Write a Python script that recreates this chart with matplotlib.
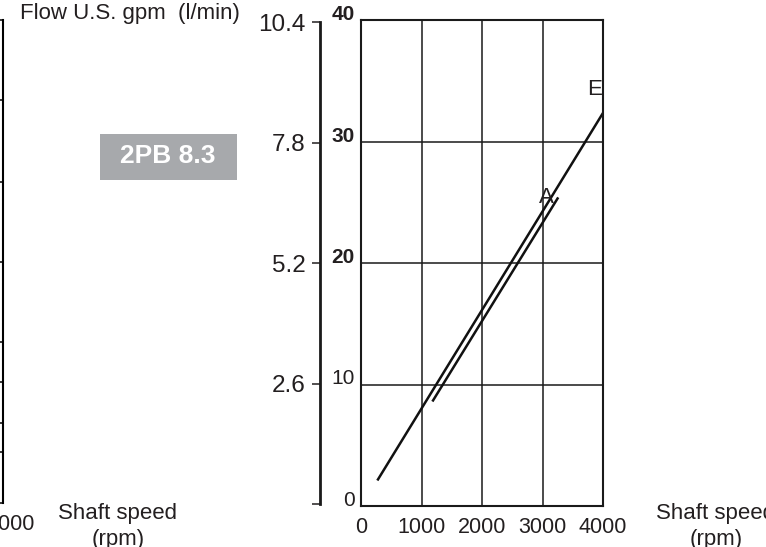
import matplotlib

matplotlib.use("Agg")
import matplotlib.pyplot as plt
from matplotlib.patches import Rectangle

plt.rcParams["font.family"] = ["Liberation Sans", "DejaVu Sans"]

# Données
speed_ticks = [0, 1000, 2000, 3000, 4000]
flow_lmin_ticks = [0, 10, 20, 30, 40]
flow_gpm_ticks = [0, 2.6, 5.2, 7.8, 10.4]
flow_gpm_labels = ["", "2.6", "5.2", "7.8", "10.4"]

curve_e_speed = [270, 4000]
curve_e_flow = [2.1, 32.35]
curve_a_speed = [1180, 3260]
curve_a_flow = [8.6, 25.4]

# fragment du graphique voisin (bord gauche)
prev_ticks = [0, 4.2, 6.6, 10, 13.3, 20, 26.6, 33.4, 40]

INK = "#231f20"
W, H = 766, 547


def px_rect(x0, y0, x1, y1):
    return [x0 / W, 1 - y1 / H, (x1 - x0) / W, (y1 - y0) / H]


fig = plt.figure(figsize=(W / 100, H / 100), dpi=100)

# --- graphique principal
ax = fig.add_axes(px_rect(361, 20, 603, 506))
ax.set_xlim(0, 4000)
ax.set_ylim(0, 40)
ax.set_xticks(speed_ticks)
ax.set_yticks(flow_lmin_ticks)
ax.grid(True, color="#1a1a1a", lw=1.1)
for s in ax.spines.values():
    s.set_linewidth(1.5)
    s.set_color("#1a1a1a")
ax.tick_params(axis="x", length=0, labelsize=15.5, pad=8, colors=INK)
ax.tick_params(axis="y", length=0, labelsize=15, pad=4.5, colors=INK)
for lab, v in zip(ax.get_yticklabels(), flow_lmin_ticks):
    lab.set_va("baseline")
    if v >= 20:
        lab.set_fontweight("bold")

ax.plot(curve_e_speed, curve_e_flow, color="#111111", lw=1.8, solid_capstyle="butt")
ax.plot(curve_a_speed, curve_a_flow, color="#111111", lw=1.8, solid_capstyle="butt")
ax.text(3063, 25.4, "A", ha="center", va="center", fontsize=16, color=INK)
ax.text(3863, 34.3, "E", ha="center", va="center", fontsize=16, color=INK)

# --- axe secondaire gpm
ax2 = fig.add_axes(px_rect(320, 22, 321, 504))
ax2.set_ylim(0, 10.4)
ax2.set_xticks([])
ax2.set_yticks(flow_gpm_ticks)
ax2.set_yticklabels(flow_gpm_labels)
for k in ("top", "right", "bottom"):
    ax2.spines[k].set_visible(False)
ax2.spines["left"].set_linewidth(2)
ax2.spines["left"].set_color("#1a1a1a")
ax2.patch.set_visible(False)
ax2.tick_params(axis="y", length=6, width=1.1, labelsize=17.5, pad=4.5, colors=INK)

# --- fragment gauche
axl = fig.add_axes(px_rect(-60, 20, 3, 503))
axl.set_ylim(0, 40)
axl.set_xticks([])
axl.set_yticks(prev_ticks)
axl.yaxis.tick_right()
axl.set_yticklabels([])
for k in ("top", "left", "bottom"):
    axl.spines[k].set_visible(False)
axl.spines["right"].set_linewidth(1.5)
axl.patch.set_visible(False)
axl.tick_params(axis="y", direction="in", length=6, width=1.1)

# --- textes
fig.text(240 / W, 1 - 14 / H, "Flow U.S. gpm  (l/min)", ha="right", va="center",
         fontsize=16, color=INK)
fig.text(35 / W, 1 - 525 / H, "4000", ha="right", va="center", fontsize=15.5, color=INK)
for cx in (118, 716):
    fig.text(cx / W, 1 - 513 / H, "Shaft speed", ha="center", va="center",
             fontsize=16, color=INK)
    fig.text(cx / W, 1 - 540 / H, "(rpm)", ha="center", va="center",
             fontsize=16, color=INK)

fig.patches.append(Rectangle((100 / W, 1 - 180 / H), 137 / W, 46 / H,
                             transform=fig.transFigure, facecolor="#a7a9ac",
                             edgecolor="none"))
fig.text(167.5 / W, 1 - 156 / H, "2PB 8.3", ha="center", va="center",
         fontsize=19, fontweight="bold", color="white")

fig.savefig("out.png", dpi=100)
